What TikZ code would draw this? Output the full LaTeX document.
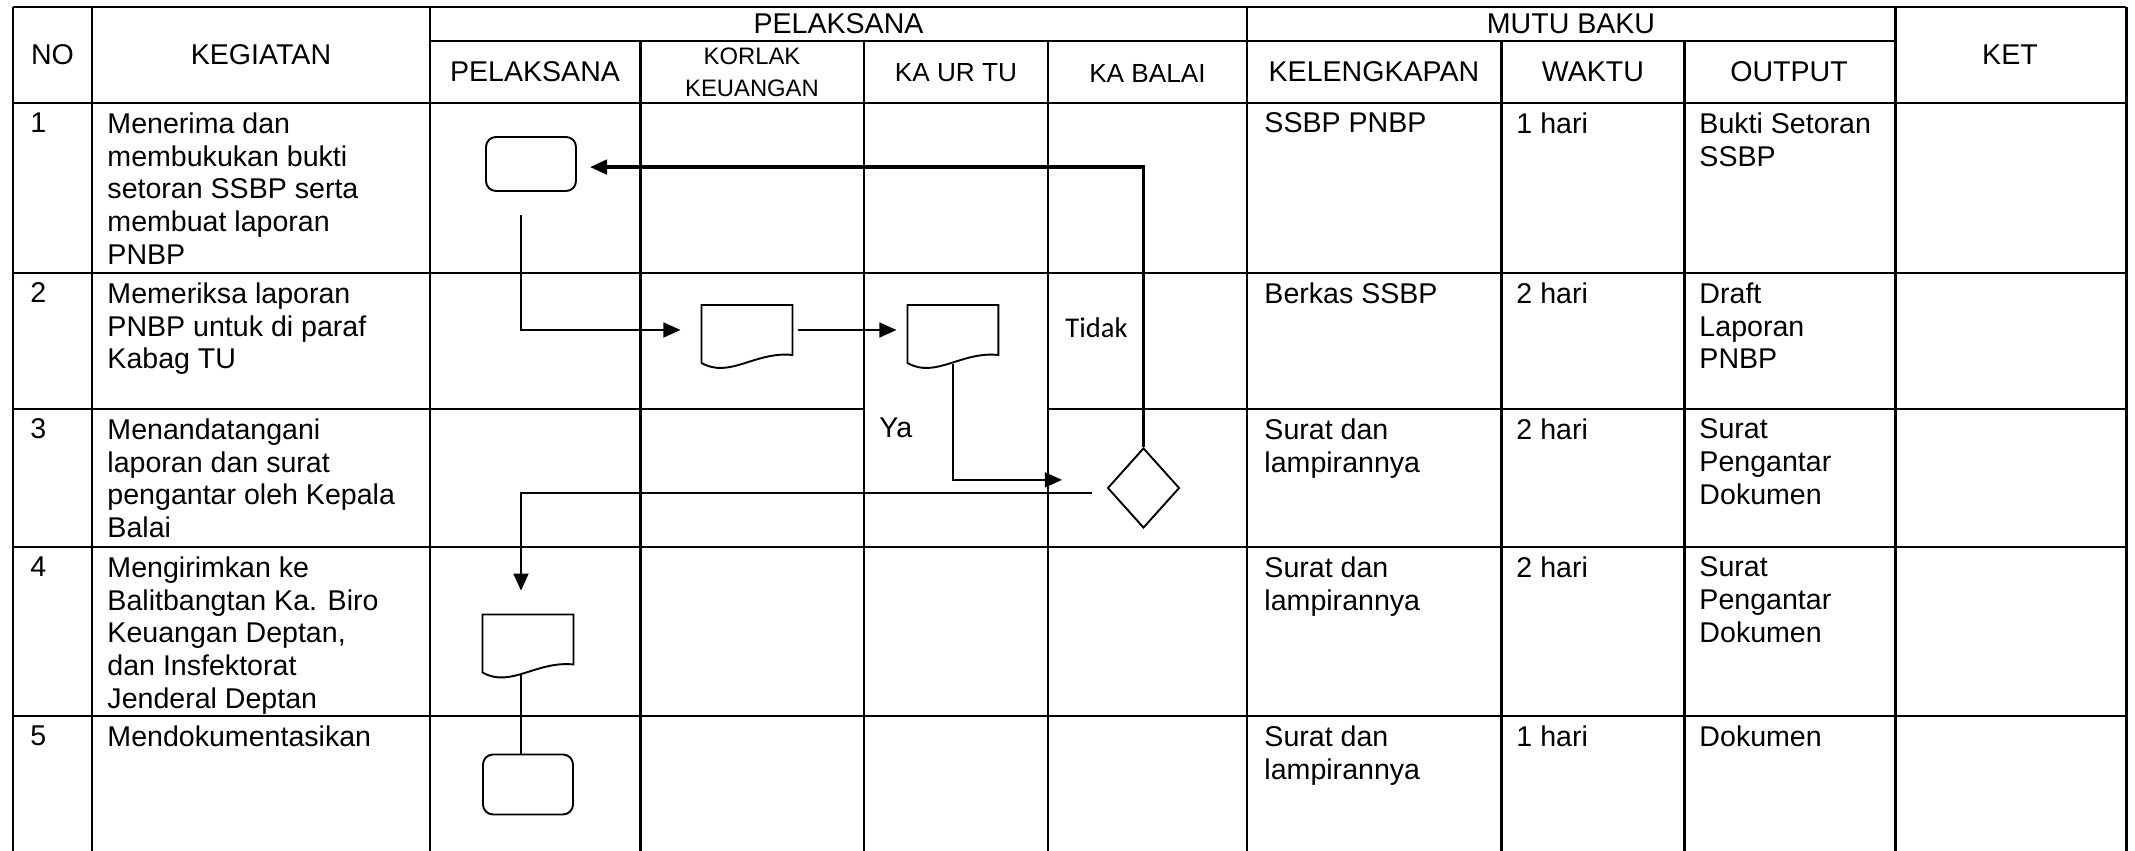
\documentclass[tikz,border=0pt]{standalone}
\usepackage{fontspec}
\setmainfont{Liberation Sans}
\newfontfamily\carlito{Carlito}
\usepackage{tikz}
\usetikzlibrary{positioning,arrows.meta,shapes.geometric,calc}

\begin{document}
\begin{tikzpicture}[x=0.42pt, y=-0.42pt,
  tline/.style={line width=1.25pt},
  tthin/.style={line width=0.5pt},
  hcell/.style={inner sep=0pt, align=center, font=\fontsize{12}{13.7}\selectfont},
  cell/.style={anchor=north west, inner sep=0pt, align=left,
               font=\fontsize{12}{13.7}\selectfont},
  term/.style={rectangle, draw, rounded corners=4.2pt, line width=0.8pt,
               minimum width=37.8pt, minimum height=22.7pt, inner sep=0pt},
  docu/.style={rectangle, inner sep=0pt, minimum width=37.8pt, minimum height=20.6pt},
  docline/.style={line width=0.8pt},
  decide/.style={diamond, draw, line width=0.8pt, minimum width=30.2pt,
                 minimum height=33.6pt, inner sep=0pt},
  flow/.style={line width=1.05pt, -{Triangle[length=7.2pt,width=6.2pt]}},
  link/.style={line width=1.05pt}
]
  \useasboundingbox (0,0) rectangle (2135,851);

  \draw[tline] (13,7) -- (2126,7);
  \draw[tline] (430,41) -- (1895,41);
  \draw[tline] (13,103) -- (2126,103);
  \draw[tline] (13,273) -- (2126,273);
  \draw[tline] (13,409) -- (864,409);
  \draw[tline] (1048,409) -- (2126,409);
  \draw[tline] (13,547) -- (2126,547);
  \draw[tline] (13,716) -- (2126,716);
  \draw[tline] (13,7) -- (13,851);
  \draw[tline] (92,7) -- (92,851);
  \draw[tline] (430,7) -- (430,851);
  \draw[tline] (640.5,41) -- (640.5,851);
  \draw[tline] (864,41) -- (864,851);
  \draw[tline] (1048,41) -- (1048,409);
  \draw[tthin] (1048,409) -- (1048,547);
  \draw[tline] (1048,547) -- (1048,851);
  \draw[tline] (1247,7) -- (1247,851);
  \draw[tline] (1501.5,41) -- (1501.5,851);
  \draw[tline] (1684,41) -- (1684,851);
  \draw[tline] (1895,7) -- (1895,851);
  \draw[tline] (2126,7) -- (2126,851);

  \node[hcell] (hno) at (52.5,55) {NO};
  \node[hcell] (hkeg) at (261,55) {KEGIATAN};
  \node[hcell] (hpel) at (838.5,24) {PELAKSANA};
  \node[hcell] (hmutu) at (1571,24) {MUTU BAKU};
  \node[hcell] (hket) at (2010,55) {KET};
  \node[hcell] (hpela) at (535,72) {PELAKSANA};
  \node[hcell, font=\fontsize{10}{13.3}\selectfont] (hkor) at (752,72) {KORLAK\\KEUANGAN};
  \node[hcell, font=\fontsize{11}{13}\selectfont] (htu) at (956,73) {KA UR TU};
  \node[hcell, font=\fontsize{11}{13}\selectfont] (hbalai) at (1147.5,73) {KA BALAI};
  \node[hcell] (hkel) at (1374,72) {KELENGKAPAN};
  \node[hcell] (hwaktu) at (1593,72) {WAKTU};
  \node[hcell] (hout) at (1789,72) {OUTPUT};

  \node[cell] (no1) at (30,112.5) {1};
  \node[cell] (keg1) at (107,112.5) {Menerima dan\\membukukan bukti\\setoran SSBP serta\\membuat laporan\\PNBP};
  \node[cell] (kel1) at (1264,112.5) {SSBP PNBP};
  \node[cell] (wak1) at (1516,112.5) {1 hari};
  \node[cell] (out1) at (1699,112.5) {Bukti Setoran\\SSBP};

  \node[cell] (no2) at (30,282.5) {2};
  \node[cell] (keg2) at (107,282.5) {Memeriksa laporan\\PNBP untuk di paraf\\Kabag TU};
  \node[cell] (kel2) at (1264,282.5) {Berkas SSBP};
  \node[cell] (wak2) at (1516,282.5) {2 hari};
  \node[cell] (out2) at (1699,282.5) {Draft\\Laporan\\PNBP};

  \node[cell] (no3) at (30,418.5) {3};
  \node[cell] (keg3) at (107,418.5) {Menandatangani\\laporan dan surat\\pengantar oleh Kepala\\Balai};
  \node[cell] (kel3) at (1264,418.5) {Surat dan\\lampirannya};
  \node[cell] (wak3) at (1516,418.5) {2 hari};
  \node[cell] (out3) at (1699,418.5) {Surat\\Pengantar\\Dokumen};

  \node[cell] (no4) at (30,556.5) {4};
  \node[cell] (keg4) at (107,556.5) {Mengirimkan ke\\Balitbangtan Ka. Biro\\Keuangan Deptan,\\dan Insfektorat\\Jenderal Deptan};
  \node[cell] (kel4) at (1264,556.5) {Surat dan\\lampirannya};
  \node[cell] (wak4) at (1516,556.5) {2 hari};
  \node[cell] (out4) at (1699,556.5) {Surat\\Pengantar\\Dokumen};

  \node[cell] (no5) at (30,725.5) {5};
  \node[cell] (keg5) at (107,725.5) {Mendokumentasikan};
  \node[cell] (kel5) at (1264,725.5) {Surat dan\\lampirannya};
  \node[cell] (wak5) at (1516,725.5) {1 hari};
  \node[cell] (out5) at (1699,725.5) {Dokumen};

  \node[term] (mulai) at (531,164) {};
  \node[docu] (korlak) at (747,330) {};
  \node[docu, right=48.3pt of korlak] (kaurtu) {};
  \node[decide] (putus) at (1143.5,488) {};
  \node[docu] (kirim) at (528,639.5) {};
  \node[term, minimum height=25.2pt, below=37.4pt of kirim] (arsip) {};
  \coordinate (lajur) at (521,0);

  \draw[docline] (korlak.north west) -- (korlak.north east) -- (korlak.south east)
    .. controls +(-37,-4) and +(28,16) .. ($(korlak.south west)+(0,8)$) -- cycle;
  \draw[docline] (kaurtu.north west) -- (kaurtu.north east) -- (kaurtu.south east)
    .. controls +(-37,-4) and +(28,16) .. ($(kaurtu.south west)+(0,8)$) -- cycle;
  \draw[docline] (kirim.north west) -- (kirim.north east) -- (kirim.south east)
    .. controls +(-37,-4) and +(28,16) .. ($(kirim.south west)+(0,8)$) -- cycle;

  \node[anchor=west, inner sep=0pt, font=\carlito\fontsize{12}{14}\selectfont] (tidak) at (1065,328) {Tidak};
  \node[anchor=west, inner sep=0pt, font=\fontsize{12}{14}\selectfont] (ya) at (879,428) {Ya};

  \draw[flow, shorten <=9.7pt, shorten >=8.8pt] (mulai.south -| lajur) |- (korlak.west);
  \draw[flow, shorten <=2.5pt, shorten >=4.6pt] (korlak.east) -- (kaurtu.west);
  \draw[flow, shorten <=3.6pt, shorten >=18.7pt] (kaurtu.south) |- ([yshift=3.4pt]putus.west);
  \draw[flow, line width=1.35pt, shorten >=5.5pt] (putus.north) |- ([yshift=-1.3pt]mulai.east);
  \draw[flow, shorten <=6.3pt, shorten >=10pt] ([yshift=-2.1pt]putus.west) -| (kirim.north -| lajur);
  \draw[link, shorten <=4pt] (kirim.south -| lajur) -- (arsip.north -| lajur);
\end{tikzpicture}
\end{document}
